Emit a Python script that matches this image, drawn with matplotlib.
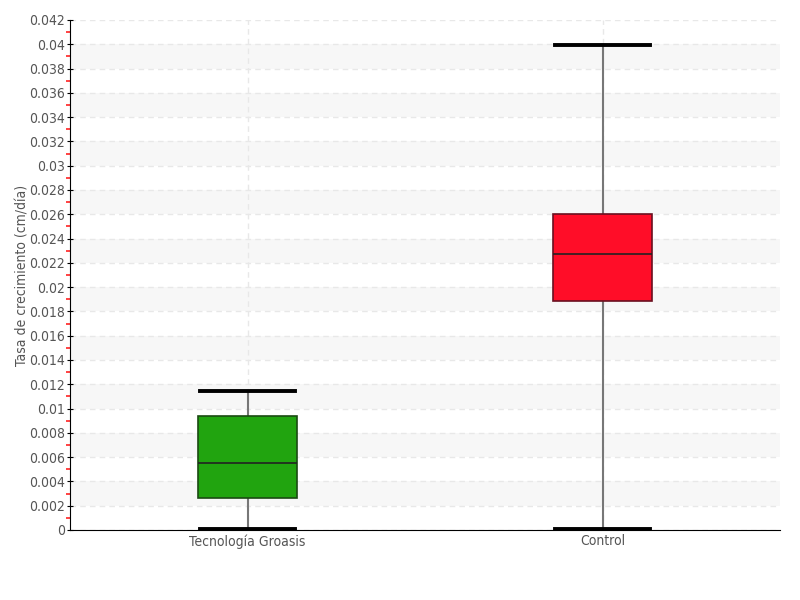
import matplotlib
matplotlib.use("Agg")
import matplotlib.pyplot as plt
import matplotlib.ticker as ticker

categories = ['Tecnología Groasis', 'Control']
whislo = [0.0001, 0.0001]
q1 = [0.00263, 0.01886]
med = [0.00552, 0.02273]
q3 = [0.00939, 0.02602]
whishi = [0.01145, 0.03995]
colors = ['#21a40f', '#ff0d28']
edges = ['#1a4a12', '#6a1020']

plt.rcParams['font.family'] = ['DejaVu Sans']
plt.rcParams['font.stretch'] = 'condensed'

fig = plt.figure(figsize=(8, 6), dpi=100)
ax = fig.add_axes([0.0875, 0.1167, 0.8875, 0.85])

# alternating horizontal bands
for y0 in [0.002 + 0.004 * k for k in range(10)]:
    ax.axhspan(y0, y0 + 0.002, color='#f7f7f7', zorder=0, lw=0)

stats = []
for i, name in enumerate(categories):
    stats.append({'label': name, 'whislo': whislo[i], 'q1': q1[i], 'med': med[i],
                  'q3': q3[i], 'whishi': whishi[i], 'fliers': []})

bp = ax.bxp(stats, positions=[0, 1], widths=0.28, patch_artist=True,
            showfliers=False, manage_ticks=False)
for i, box in enumerate(bp['boxes']):
    box.set_facecolor(colors[i])
    box.set_edgecolor(edges[i])
    box.set_linewidth(1.2)
    box.set_zorder(3)
for m in bp['medians']:
    m.set_color('#222222')
    m.set_linewidth(1.2)
    m.set_zorder(4)
for w in bp['whiskers']:
    w.set_color('#777777')
    w.set_linewidth(1.5)
for c in bp['caps']:
    c.set_color('black')
    c.set_linewidth(2.8)
    c.set_zorder(4)
    x = c.get_xdata()
    mid = (x[0] + x[1]) / 2
    c.set_xdata([mid - 0.135, mid + 0.135])

ax.set_xlim(-0.5, 1.5)
ax.set_ylim(0, 0.042)
ax.set_xticks([0, 1])
ax.set_xticklabels(categories)
ax.yaxis.set_major_locator(ticker.MultipleLocator(0.002))
ax.yaxis.set_minor_locator(ticker.MultipleLocator(0.001))
ax.yaxis.set_major_formatter(ticker.FuncFormatter(lambda v, p: '%g' % round(v, 4)))

ax.grid(axis='y', which='major', color='#e8e8e8', linestyle=(0, (4, 3)), linewidth=1, zorder=1)
ax.grid(axis='x', which='major', color='#e8e8e8', linestyle=(0, (4, 3)), linewidth=1, zorder=1)
ax.set_axisbelow(True)

for s in ['top', 'right']:
    ax.spines[s].set_visible(False)
ax.spines['left'].set_color('black')
ax.spines['bottom'].set_color('black')

ax.tick_params(axis='y', which='major', direction='inout', length=5, color='black',
               labelcolor='#555555', labelsize=10, pad=1)
ax.tick_params(axis='y', which='minor', direction='out', length=3, color='#ff2222', width=1.2)
ax.tick_params(axis='x', length=0, labelcolor='#555555', labelsize=10, pad=3)

ax.set_ylabel('Tasa de crecimiento (cm/día)', color='#555555', fontsize=10, labelpad=0)

fig.savefig('out.png', dpi=100)
